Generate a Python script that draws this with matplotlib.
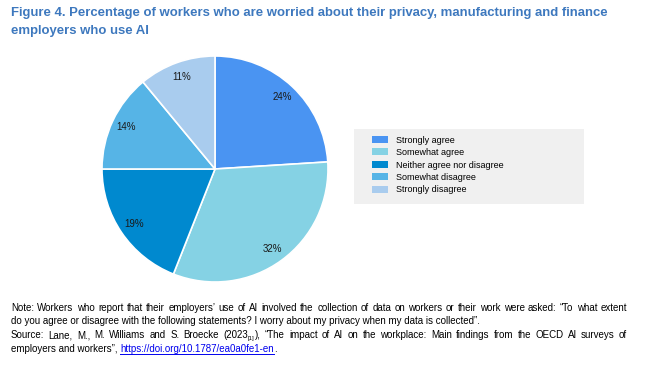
import matplotlib
matplotlib.use("Agg")
import matplotlib.pyplot as plt
from matplotlib.patches import Rectangle, Patch
from matplotlib.transforms import IdentityTransform

W, H = 650, 372
DPI = 100
FAM = ['Liberation Sans', 'DejaVu Sans']

categories = ["Strongly agree", "Somewhat agree", "Neither agree nor disagree",
              "Somewhat disagree", "Strongly disagree"]
values = [24, 32, 19, 14, 11]
colors = ["#4A94F2", "#85D2E4", "#0089CF", "#56B4E6", "#A9CCEE"]

title_lines = ["Figure 4. Percentage of workers who are worried about their privacy, manufacturing and finance",
               "employers who use AI"]

note_lines = [
    ("Note: Workers who report that their employers’ use of AI involved the collection of data on workers or their work were asked: “To what extent", True),
    ("do you agree or disagree with the following statements? I worry about my privacy when my data is collected”.", False),
    ("Source: Lane, M., M. Williams and S. Broecke (2023[1]), “The impact of AI on the workplace: Main findings from the OECD AI surveys of", True),
    ("employers and workers”, https://doi.org/10.1787/ea0a0fe1-en.", False),
]
URL = "https://doi.org/10.1787/ea0a0fe1-en"

fig = plt.figure(figsize=(W / DPI, H / DPI), dpi=DPI)
fig.canvas.draw()
renderer = fig.canvas.get_renderer()


def seg_width(s, size, weight='normal'):
    t = fig.text(0, 0, s, fontsize=size, family=FAM, fontweight=weight)
    w = t.get_window_extent(renderer).width
    t.remove()
    return w


# title: fit first line to reference width
TLEFT, TRIGHT = 11, 613
tfs = 11 * (TRIGHT - TLEFT) / seg_width(title_lines[0], 11, 'bold')
for i, t in enumerate(title_lines):
    fig.text(TLEFT / W, 1 - (13 + 18 * i) / H, t, fontsize=tfs, fontweight='bold',
             color='#3D78BE', family=FAM, va='center', ha='left')

# pie
cx, cy, R = 215, 169, 113
ax = fig.add_axes([(cx - R) / W, (H - cy - R) / H, 2 * R / W, 2 * R / H])
wedges, texts, autotexts = ax.pie(values, colors=colors, startangle=90, counterclock=False,
                                  autopct='%1.0f%%', pctdistance=0.87, radius=1,
                                  wedgeprops=dict(edgecolor='white', linewidth=1.2),
                                  textprops=dict(fontsize=7, color='#1a1a1a', family=FAM))
for w in wedges:
    w.set_clip_on(False)
ax.set_xlim(-1, 1)
ax.set_ylim(-1, 1)
ax.set_aspect('equal')
ax.axis('off')

# legend background
fig.patches.append(Rectangle((354 / W, 1 - 204 / H), (584 - 354) / W, (204 - 129) / H,
                             transform=fig.transFigure, facecolor='#F0F0F0', edgecolor='none',
                             zorder=0))
handles = [Patch(facecolor=c, edgecolor='none') for c in colors]
fs_leg = 6.5
leg = fig.legend(handles, categories, loc='center left',
                 bbox_to_anchor=(372 / W, 1 - 165 / H), frameon=False,
                 handlelength=1.8, handleheight=0.8, handletextpad=0.9, labelspacing=0.38,
                 borderpad=0, borderaxespad=0, prop=dict(family=FAM, size=fs_leg))

# note text
LEFT, RIGHT = 11, 627
natural = seg_width(note_lines[0][0], 8)
FS = 8 * (RIGHT - LEFT) / natural * 0.985


def word_segments(w):
    if "[1]" in w:
        a, b = w.split("[1]")
        return [(a, FS, 0, 'black', False), ("[1]", FS * 0.6, -2, 'black', False), (b, FS, 0, 'black', False)]
    if w.startswith(URL):
        rest = w[len(URL):]
        segs = [(URL, FS, 0, '#0000EE', True)]
        if rest:
            segs.append((rest, FS, 0, 'black', False))
        return segs
    return [(w, FS, 0, 'black', False)]


def draw_segs(segs, x, ypix):
    for s, sz, dy, col, ul in segs:
        fig.text(x, ypix + dy, s, fontsize=sz, family=FAM, color=col,
                 transform=IdentityTransform(), va='baseline', ha='left')
        sw = seg_width(s, sz)
        if ul:
            fig.lines.append(plt.Line2D([x, x + sw], [ypix - 1.5, ypix - 1.5], color=col,
                                        linewidth=0.7, transform=IdentityTransform()))
        x += sw
    return x


baselines = [311, 324, 338, 352]
for (line, justify), yb in zip(note_lines, baselines):
    ypix = H - yb
    if justify:
        words = [word_segments(w) for w in line.split(" ")]
        widths = [sum(seg_width(s, sz) for s, sz, _, _, _ in segs) for segs in words]
        gap = (RIGHT - LEFT - sum(widths)) / (len(words) - 1)
        x = LEFT
        for segs, wd in zip(words, widths):
            draw_segs(segs, x, ypix)
            x += wd + gap
    else:
        if URL in line:
            a, b = line.split(URL)
            segs = [(a.rstrip(" "), FS, 0, 'black', False)]
            x = draw_segs(segs, LEFT, ypix)
            x += seg_width("a a", FS) - seg_width("aa", FS)
            draw_segs([(URL, FS, 0, '#0000EE', True), (b, FS, 0, 'black', False)], x, ypix)
        else:
            draw_segs([(line, FS, 0, 'black', False)], LEFT, ypix)

fig.savefig("out.png", dpi=DPI)
